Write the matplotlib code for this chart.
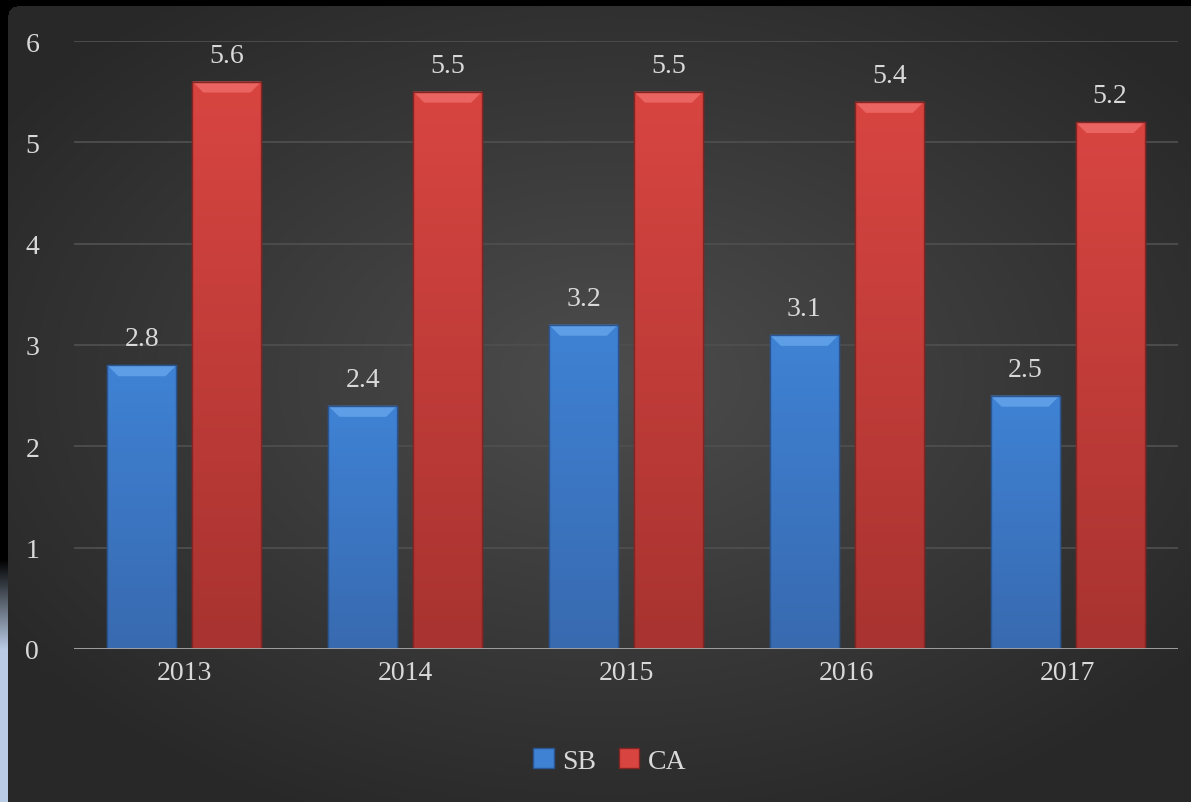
import numpy as np
import matplotlib.pyplot as plt
from matplotlib.patches import Polygon, Rectangle
from matplotlib.colors import LinearSegmentedColormap

years = ['2013', '2014', '2015', '2016', '2017']
sb = [2.8, 2.4, 3.2, 3.1, 2.5]
ca = [5.6, 5.5, 5.5, 5.4, 5.2]
series_names = ['SB', 'CA']

plt.rcParams['font.family'] = ['Liberation Serif', 'DejaVu Serif']
txt = '#d9d9d9'
fs = 20

W, H = 1191, 803
fig = plt.figure(figsize=(W / 100, H / 100), dpi=100)

# background: dark panel with soft radial light, slide edge at left
yy, xx = np.mgrid[0:H, 0:W]
d = np.sqrt(((xx - 610) / 720.) ** 2 + ((yy - 380) / 470.) ** 2)
g = 0.30 - 0.14 * np.clip(d, 0, 1)
img = np.zeros((H, W, 3))
img[...] = g[..., None]
panel = (xx >= 8) & (yy >= 7)
r = 9
corner = (xx < 8 + r) & (yy < 7 + r) & ((xx - (8 + r)) ** 2 + (yy - (7 + r)) ** 2 > r ** 2)
panel &= ~corner
img[~panel] = 0
strip = (xx < 8) & (yy > 560)
t = np.clip((yy - 560) / 90., 0, 1)
blue_strip = np.array([0.73, 0.80, 0.90])
img[strip] = t[strip][:, None] * blue_strip
bg = fig.add_axes([0, 0, 1, 1])
bg.imshow(img, aspect='auto', interpolation='bilinear')
bg.axis('off')

ax = fig.add_axes([74 / W, 153 / H, 1104 / W, 608 / H])
ax.patch.set_alpha(0)

idx = np.arange(len(years))
w = 0.3125
off = 0.1925
bx = 11 / 220.8
by = 11 / 101.3

styles = [
    (sb, -off, '#3f82d4', '#386ab0', '#5e9ee6', '#2a5590'),
    (ca, off, '#d84541', '#a83330', '#ea6461', '#842523'),
]

for vals, o, c_top, c_bot, c_bev, c_edge in styles:
    cmap = LinearSegmentedColormap.from_list('g', [c_bot, c_top])
    bars = ax.bar(idx + o, vals, w, color=c_top, edgecolor=c_edge, linewidth=1, zorder=2)
    for b in bars:
        x0, x1, top = b.get_x(), b.get_x() + b.get_width(), b.get_height()
        im = ax.imshow(np.linspace(0, 1, 100).reshape(-1, 1), cmap=cmap, origin='lower',
                       extent=[x0, x1, 0, top], aspect='auto', zorder=2.1)
        im.set_clip_path(b)
        ax.add_patch(Polygon([(x0, top), (x1, top), (x1 - bx, top - by), (x0 + bx, top - by)],
                             closed=True, facecolor=c_bev, edgecolor='none', zorder=2.2))
        ax.add_patch(Rectangle((x0, 0), b.get_width(), top, facecolor='none',
                               edgecolor=c_edge, linewidth=1, zorder=2.3))
        ax.annotate(f'{top:.1f}', (b.get_x() + b.get_width() / 2, top), xytext=(0, 10),
                    textcoords='offset points', ha='center', va='bottom', color=txt, fontsize=fs)

ax.set_xlim(-0.5, len(years) - 0.5)
ax.set_ylim(0, 6)
ax.set_yticks(range(7))
ax.set_xticks(idx)
ax.set_xticklabels(years)
ax.yaxis.grid(True, color='#4e4e4e', linewidth=1.3)
ax.set_axisbelow(True)
for s in ax.spines.values():
    s.set_visible(False)
ax.axhline(0, color='#a6a6a6', linewidth=2, zorder=3)
ax.tick_params(axis='both', length=0, colors=txt, labelsize=fs)
ax.tick_params(axis='x', pad=8)
for lab in ax.get_yticklabels():
    lab.set_horizontalalignment('left')
ax.tick_params(axis='y', pad=35)

handles = [Rectangle((0, 0), 1, 1, facecolor='#3f82d4', edgecolor='#2a5590'),
           Rectangle((0, 0), 1, 1, facecolor='#d84541', edgecolor='#842523')]
fig.legend(handles, series_names, loc='center', bbox_to_anchor=(0.512, 0.051), ncol=2,
           frameon=False, handlelength=0.75, handleheight=0.75, columnspacing=0.8,
           handletextpad=0.3, fontsize=fs, labelcolor=txt)

fig.savefig('out.png', dpi=100)
